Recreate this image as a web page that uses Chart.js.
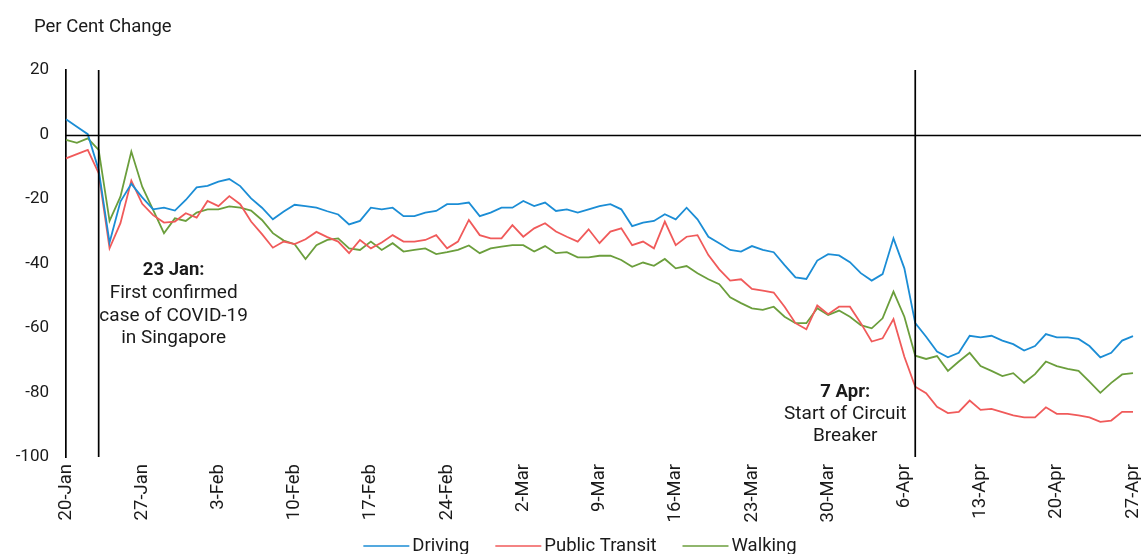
<!DOCTYPE html>
<html>
<head>
<meta charset="utf-8">
<script src="https://cdn.jsdelivr.net/npm/chart.js@4.4.1/dist/chart.umd.min.js"></script>
<style>
  html, body { margin: 0; padding: 0; background: #fff; }
  #wrap { position: relative; width: 1141px; height: 554px; }
</style>
</head>
<body>
<div id="wrap"><canvas id="mobility"></canvas></div>
<script>
// daily categories, 20 Jan to 27 Apr 2020
const monthSpans = [['Jan', 20, 31], ['Feb', 1, 29], ['Mar', 1, 31], ['Apr', 1, 27]];
const days = [];
monthSpans.forEach(([m, from, to]) => {
  for (let d = from; d <= to; d++) days.push(d + '-' + m);
});

const driving = [4.7, 2.4, 0.1, -11.0, -33.5, -20.8, -15.3, -19.5, -23.2, -22.7,
  -23.6, -20.3, -16.4, -15.9, -14.6, -13.8, -16.0, -19.8, -22.7, -26.3,
  -23.9, -21.8, -22.2, -22.7, -23.8, -24.8, -27.9, -26.8, -22.7, -23.2,
  -22.7, -25.3, -25.3, -24.2, -23.7, -21.6, -21.6, -21.1, -25.3, -24.2,
  -22.7, -22.7, -20.6, -22.2, -21.1, -23.7, -23.2, -24.2, -23.2, -22.2,
  -21.6, -23.2, -28.4, -27.3, -26.8, -24.7, -26.3, -22.7, -26.3, -31.7,
  -33.7, -35.8, -36.3, -34.6, -35.8, -36.5, -40.5, -44.3, -44.8, -39.1,
  -37.1, -37.5, -39.6, -43.0, -45.3, -43.3, -32.2, -41.5, -58.5, -62.7,
  -67.3, -69.1, -67.7, -62.4, -62.9, -62.4, -63.9, -65.0, -67.0, -65.6,
  -61.9, -62.9, -62.9, -63.4, -65.6, -69.1, -67.7, -63.9, -62.5];

const transit = [-7.4, -6.1, -4.8, -12.0, -35.3, -27.5, -14.3, -21.5, -25.0, -27.3,
  -27.0, -24.4, -25.8, -20.6, -22.2, -19.1, -21.6, -27.0, -30.9, -35.1,
  -33.2, -34.0, -32.5, -30.2, -31.8, -33.2, -36.8, -32.7, -35.3, -33.5,
  -31.2, -33.2, -33.2, -32.7, -31.2, -35.3, -33.2, -26.5, -31.2, -32.2,
  -32.2, -28.1, -31.7, -29.1, -27.5, -30.1, -31.7, -33.2, -29.4, -33.7,
  -30.1, -29.1, -34.3, -33.2, -35.3, -27.0, -34.3, -31.7, -31.2, -37.4,
  -41.8, -45.3, -44.9, -47.9, -48.4, -49.0, -53.4, -58.5, -60.4, -53.0,
  -55.7, -53.4, -53.4, -58.5, -64.2, -63.2, -57.2, -68.9, -78.2, -80.2,
  -84.4, -86.4, -86.0, -82.5, -85.4, -85.1, -86.1, -87.1, -87.7, -87.7,
  -84.6, -86.6, -86.6, -87.1, -87.7, -89.1, -88.7, -86.0, -86.0];

const walking = [-1.7, -2.6, -1.2, -4.8, -26.8, -19.3, -5.3, -16.2, -23.4, -30.6,
  -26.0, -26.8, -24.2, -23.2, -23.2, -22.3, -22.7, -23.6, -26.5, -30.6,
  -32.9, -34.0, -38.6, -34.3, -32.7, -32.2, -35.3, -35.8, -33.2, -35.8,
  -33.7, -36.3, -35.8, -35.3, -37.1, -36.5, -35.8, -34.4, -36.8, -35.3,
  -34.8, -34.3, -34.3, -36.3, -34.6, -36.8, -36.5, -38.1, -38.1, -37.6,
  -37.6, -38.9, -41.0, -39.7, -40.7, -38.6, -41.5, -40.8, -43.0, -44.9,
  -46.4, -50.5, -52.3, -53.9, -54.4, -53.4, -56.5, -58.5, -58.5, -53.9,
  -56.0, -54.6, -56.5, -59.1, -60.1, -57.0, -48.7, -56.5, -68.6, -69.6,
  -68.7, -73.3, -70.4, -67.7, -71.8, -73.3, -74.9, -74.0, -77.0, -74.3,
  -70.4, -71.8, -72.7, -73.3, -76.6, -80.1, -77.0, -74.4, -74.0];

const seriesNames = ['Driving', 'Public Transit', 'Walking'];
const yTicks = [20, 0, -20, -40, -60, -80, -100];

// event markers: date of the vertical line and the note beside it
const eventDays = ['23-Jan', '7-Apr'];
const eventHeads = ['23 Jan:', '7 Apr:'];
const eventNotes = [['First confirmed', 'case of COVID-19', 'in Singapore'], ['Start of Circuit', 'Breaker']];

const FONT = 'Roboto, "DejaVu Sans", sans-serif';
const INK = '#1a1a1a';

const extras = {
  id: 'extras',
  afterDatasetsDraw(chart) {
    const { ctx, chartArea: a, scales: { x, y } } = chart;
    ctx.save();
    ctx.strokeStyle = '#000';
    ctx.lineWidth = 1.7;
    ctx.beginPath();
    const y0 = Math.round(y.getPixelForValue(0)) + 0.5;
    ctx.moveTo(a.left, y0);
    ctx.lineTo(chart.width, y0);
    eventDays.forEach(d => {
      const px = x.getPixelForValue(days.indexOf(d));
      ctx.moveTo(px, a.top);
      ctx.lineTo(px, a.bottom);
    });
    ctx.stroke();

    // notes
    ctx.fillStyle = INK;
    ctx.textAlign = 'center';
    ctx.textBaseline = 'middle';
    const notePos = [
      { dx: 75, top: -42.2, step: 22.7 },
      { dx: -70, top: -80.0, step: 22 }
    ];
    eventDays.forEach((d, k) => {
      const px = x.getPixelForValue(days.indexOf(d)) + notePos[k].dx;
      let py = y.getPixelForValue(notePos[k].top);
      ctx.font = 'bold 18.5px ' + FONT;
      ctx.fillText(eventHeads[k], px, py);
      ctx.font = '19px ' + FONT;
      eventNotes[k].forEach(line => {
        py += notePos[k].step;
        ctx.fillText(line, px, py);
      });
    });
    ctx.restore();
  },
  afterDraw(chart) {
    const { ctx } = chart;
    ctx.save();
    ctx.fillStyle = INK;
    ctx.font = '18.5px ' + FONT;
    ctx.textBaseline = 'middle';
    ctx.textAlign = 'left';
    ctx.fillText('Per Cent Change', 34, 27);

    // legend along the bottom
    const sw = 46, gapText = 3, gapItem = 26, ly = 546;
    const items = chart.data.datasets.map(ds => ({ ds, w: ctx.measureText(ds.label).width }));
    const total = items.reduce((s, it) => s + sw + gapText + it.w, 0) + gapItem * (items.length - 1);
    let lx = 580 - total / 2;
    items.forEach(it => {
      ctx.strokeStyle = it.ds.borderColor;
      ctx.lineWidth = 1.7;
      ctx.beginPath();
      ctx.moveTo(lx, ly);
      ctx.lineTo(lx + sw, ly);
      ctx.stroke();
      ctx.fillText(it.ds.label, lx + sw + gapText, ly);
      lx += sw + gapText + it.w + gapItem;
    });
    ctx.restore();
  }
};

new Chart(document.getElementById('mobility'), {
  type: 'line',
  data: {
    labels: days,
    datasets: [
      { label: seriesNames[0], data: driving, borderColor: '#1b8dd5', backgroundColor: '#1b8dd5' },
      { label: seriesNames[1], data: transit, borderColor: '#f05a5a', backgroundColor: '#f05a5a' },
      { label: seriesNames[2], data: walking, borderColor: '#6b9e3c', backgroundColor: '#6b9e3c' }
    ]
  },
  options: {
    responsive: true,
    maintainAspectRatio: false,
    animation: false,
    elements: {
      point: { radius: 0, hoverRadius: 0 },
      line: { borderWidth: 1.8, tension: 0 }
    },
    layout: { padding: { top: 70, right: 8, left: 0, bottom: 0 } },
    plugins: {
      legend: { display: false },
      tooltip: { enabled: false }
    },
    scales: {
      x: {
        type: 'category',
        offset: false,
        grid: { display: false, drawTicks: false },
        border: { display: false },
        // keep the plot running to the right edge; the last date label gets clipped
        afterFit: s => { s.height = 97; s.paddingLeft = 0; s.paddingRight = 0; },
        ticks: {
          autoSkip: false,
          minRotation: 90,
          maxRotation: 90,
          padding: 7,
          color: INK,
          font: { family: FONT, size: 18.5 },
          callback: (v, i) => (i % 7 === 0 ? days[i] : null)
        }
      },
      y: {
        min: -100,
        max: 20,
        afterFit: s => { s.width = 66; },
        afterBuildTicks: s => { s.ticks = yTicks.map(v => ({ value: v })); },
        grid: { display: false, drawTicks: false },
        border: { display: true, color: '#000', width: 1.7 },
        ticks: {
          padding: 17,
          color: INK,
          font: { family: FONT, size: 17 }
        }
      }
    }
  },
  plugins: [extras]
});
</script>
</body>
</html>
